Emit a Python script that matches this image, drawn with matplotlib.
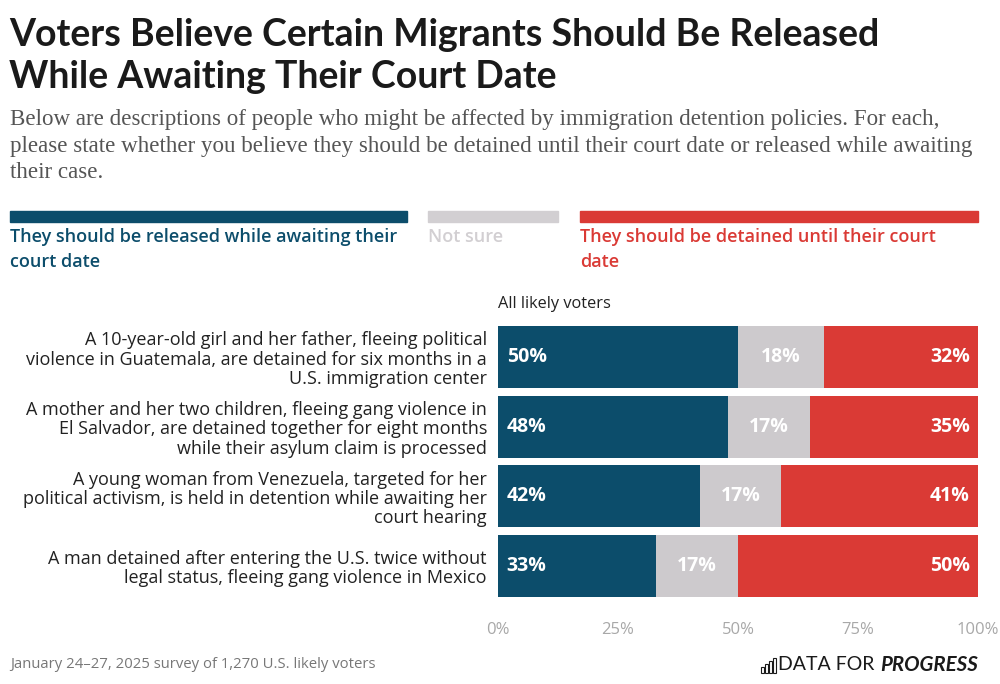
import matplotlib.pyplot as plt
from matplotlib.patches import Rectangle

# Dane z wykresu
questions = [
    "A 10-year-old girl and her father, fleeing political\nviolence in Guatemala, are detained for six months in a\nU.S. immigration center",
    "A mother and her two children, fleeing gang violence in\nEl Salvador, are detained together for eight months\nwhile their asylum claim is processed",
    "A young woman from Venezuela, targeted for her\npolitical activism, is held in detention while awaiting her\ncourt hearing",
    "A man detained after entering the U.S. twice without\nlegal status, fleeing gang violence in Mexico",
]
released = [50, 48, 42, 33]
not_sure = [18, 17, 17, 17]
detained = [32, 35, 41, 50]
tick_values = [0, 25, 50, 75, 100]

series_names = ["They should be released while awaiting their\ncourt date",
                "Not sure",
                "They should be detained until their court\ndate"]

BLUE = "#0c4d6b"
GREY = "#cdcacd"
RED = "#da3a35"

plt.rcParams['font.family'] = ['Open Sans', 'DejaVu Sans']

fig = plt.figure(figsize=(10, 6.84), dpi=100)
W, H = 1000, 684

def fx(px):
    return px / W

def fy(py):
    return 1 - py / H

# Tytuł i podtytuł
title_lines = ["Voters Believe Certain Migrants Should Be Released",
               "While Awaiting Their Court Date"]
for line, base in zip(title_lines, [46, 88]):
    fig.text(fx(9), fy(base), line, fontsize=27, fontweight='bold', family=['Lato'],
             color='#1a1a1a', va='baseline', ha='left')

sub_lines = ["Below are descriptions of people who might be affected by immigration detention policies. For each,",
             "please state whether you believe they should be detained until their court date or released while awaiting",
             "their case."]
for line, base in zip(sub_lines, [125, 152, 178]):
    fig.text(fx(10), fy(base), line, fontsize=16.6, family=['Liberation Serif', 'DejaVu Serif'],
             color='#555555', va='baseline', ha='left')

# Legenda
legend_items = [(10, 407, BLUE, series_names[0]),
                (428, 558, "#d2cfd2", series_names[1]),
                (580, 978, RED, series_names[2])]
for x0, x1, col, name in legend_items:
    fig.patches.append(Rectangle((fx(x0), fy(222)), fx(x1 - x0), 11 / H,
                                 transform=fig.transFigure, color=col))
    fig.text(fx(x0), fy(228), name, color=col, fontsize=13, fontweight='semibold',
             va='top', ha='left', linespacing=1.5)

fig.text(fx(498), fy(304), "All likely voters", fontsize=11.8, color='#222222',
         va='center', ha='left')

# Wykres słupkowy
h = 0.89
ax = fig.add_axes([fx(498), fy(597), fx(978 - 498), (597 - 326) / H])
y = list(range(len(questions)))
left2 = [a + b for a, b in zip(released, not_sure)]
ax.barh(y, released, height=h, color=BLUE)
ax.barh(y, not_sure, left=released, height=h, color=GREY)
ax.barh(y, detained, left=left2, height=h, color=RED)

for i in y:
    ax.text(1.8, i, f"{released[i]}%", color='white', fontsize=14, fontweight='bold',
            va='center', ha='left')
    ax.text(released[i] + not_sure[i] / 2, i, f"{not_sure[i]}%", color='white',
            fontsize=14, fontweight='bold', va='center', ha='center')
    ax.text(98.3, i, f"{detained[i]}%", color='white', fontsize=14, fontweight='bold',
            va='center', ha='right')

ax.set_xlim(0, 100)
ax.set_ylim(len(questions) - 1 + h / 2, -h / 2)
ax.set_yticks(y)
ax.set_yticklabels(questions, fontsize=13, color='#222222', linespacing=1.1)
ax.set_xticks(tick_values)
ax.set_xticklabels([f"{t}%" for t in tick_values], fontsize=12, color='#a8a8a8')
ax.tick_params(axis='both', length=0)
ax.tick_params(axis='y', pad=8)
ax.tick_params(axis='x', pad=18)
for s in ax.spines.values():
    s.set_visible(False)

# Stopka
fig.text(fx(10), fy(665), "January 24\u201327, 2025 survey of 1,270 U.S. likely voters",
         fontsize=10.7, color='#777777', va='center', ha='left')
fig.text(fx(978), fy(665), "PROGRESS", fontsize=14.8, fontweight='bold', style='italic',
         family=['Lato'], color='#1a1a1a', va='center', ha='right')
fig.text(fx(874), fy(665), "DATA FOR", fontsize=14, family=['Lato'], color='#1a1a1a',
         va='center', ha='right')
# ikona logo
for k, hh in enumerate([6, 9, 12, 15]):
    fig.patches.append(Rectangle((fx(761 + k * 4), fy(673)), fx(2.5), hh / H,
                                 transform=fig.transFigure, fill=False,
                                 edgecolor='#1a1a1a', linewidth=0.8))

fig.savefig("out.png", dpi=100)
